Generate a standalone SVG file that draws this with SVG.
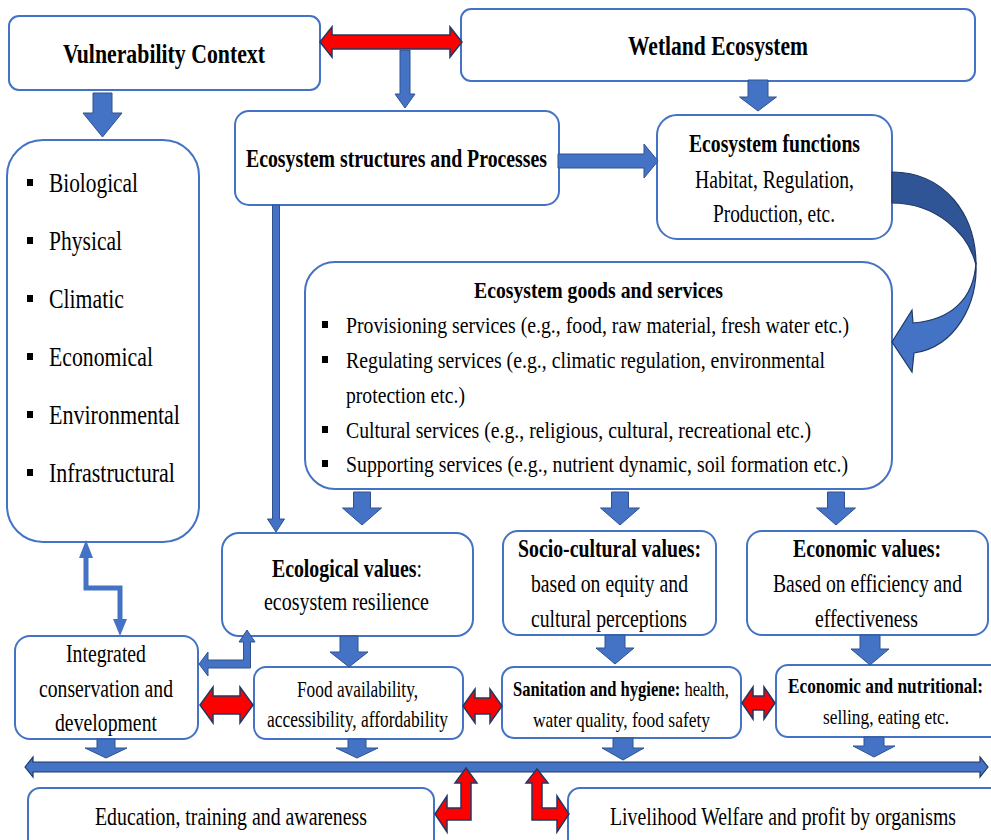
<svg xmlns="http://www.w3.org/2000/svg" width="991" height="840" viewBox="0 0 991 840">
<style>
.box{fill:#fff;stroke:#4472C4;stroke-width:2}
.t{font-family:"Liberation Serif","Times New Roman",serif;fill:#000}
.b{font-weight:bold}
.ba{fill:#4472C4;stroke:#2F528F;stroke-width:1}
.ra{fill:#FF0000;stroke:#1F3864;stroke-width:1.5}
.bul{fill:#000}
</style>
<rect width="991" height="840" fill="#fff"/>

<g id="vulnerability-context">
<rect class="box" x="9" y="16" width="311" height="74" rx="10"/>
<text class="t b" transform="scale(0.8,1)" x="78.75" y="63" font-size="28" textLength="252.5" lengthAdjust="spacingAndGlyphs">Vulnerability Context</text>
</g>

<g id="wetland-ecosystem">
<rect class="box" x="461" y="9" width="514" height="72" rx="10"/>
<text class="t b" transform="scale(0.8,1)" x="785" y="55" font-size="28" textLength="225" lengthAdjust="spacingAndGlyphs">Wetland Ecosystem</text>
</g>

<g id="ecosystem-structures">
<rect class="box" x="235" y="111" width="324" height="94" rx="14"/>
<text class="t b" transform="scale(0.8,1)" x="307.5" y="167" font-size="26" textLength="376.25" lengthAdjust="spacingAndGlyphs">Ecosystem structures and Processes</text>
</g>

<g id="ecosystem-functions">
<rect class="box" x="657" y="115" width="235" height="124" rx="20"/>
<text class="t b" transform="scale(0.8,1)" x="861.25" y="152" font-size="25" textLength="213.75" lengthAdjust="spacingAndGlyphs">Ecosystem functions</text>
<text class="t" transform="scale(0.8,1)" x="868.75" y="188" font-size="25" textLength="198.75" lengthAdjust="spacingAndGlyphs">Habitat, Regulation,</text>
<text class="t" transform="scale(0.8,1)" x="891.25" y="222" font-size="25" textLength="152.5" lengthAdjust="spacingAndGlyphs">Production, etc.</text>
</g>

<g id="vulnerability-factors">
<rect class="box" x="7" y="140" width="192" height="402" rx="36"/>
<rect class="bul" x="27" y="179" width="6" height="7"/>
<text class="t" transform="scale(0.8,1)" x="61.25" y="192" font-size="27" textLength="111.25" lengthAdjust="spacingAndGlyphs">Biological</text>
<rect class="bul" x="27" y="237" width="6" height="7"/>
<text class="t" transform="scale(0.8,1)" x="61.25" y="250" font-size="27" textLength="91.25" lengthAdjust="spacingAndGlyphs">Physical</text>
<rect class="bul" x="27" y="295" width="6" height="7"/>
<text class="t" transform="scale(0.8,1)" x="61.25" y="308" font-size="27" textLength="93.75" lengthAdjust="spacingAndGlyphs">Climatic</text>
<rect class="bul" x="27" y="353" width="6" height="7"/>
<text class="t" transform="scale(0.8,1)" x="61.25" y="366" font-size="27" textLength="130" lengthAdjust="spacingAndGlyphs">Economical</text>
<rect class="bul" x="27" y="411" width="6" height="7"/>
<text class="t" transform="scale(0.8,1)" x="61.25" y="424" font-size="27" textLength="163.75" lengthAdjust="spacingAndGlyphs">Environmental</text>
<rect class="bul" x="27" y="469" width="6" height="7"/>
<text class="t" transform="scale(0.8,1)" x="61.25" y="482" font-size="27" textLength="157.5" lengthAdjust="spacingAndGlyphs">Infrastructural</text>
</g>

<g id="goods-and-services">
<rect class="box" x="305" y="262" width="587" height="227" rx="30"/>
<text class="t b" transform="scale(0.8,1)" x="592.5" y="298" font-size="23" textLength="311.25" lengthAdjust="spacingAndGlyphs">Ecosystem goods and services</text>
<rect class="bul" x="322" y="321" width="6" height="7"/>
<text class="t" transform="scale(0.8,1)" x="432.5" y="333" font-size="23" textLength="628.75" lengthAdjust="spacingAndGlyphs">Provisioning services (e.g., food, raw material, fresh water etc.)</text>
<rect class="bul" x="322" y="356" width="6" height="7"/>
<text class="t" transform="scale(0.8,1)" x="432.5" y="368" font-size="23" textLength="598.75" lengthAdjust="spacingAndGlyphs">Regulating services (e.g., climatic regulation, environmental</text>
<text class="t" transform="scale(0.8,1)" x="432.5" y="403" font-size="23" textLength="148.75" lengthAdjust="spacingAndGlyphs">protection etc.)</text>
<rect class="bul" x="322" y="426" width="6" height="7"/>
<text class="t" transform="scale(0.8,1)" x="432.5" y="438" font-size="23" textLength="581.25" lengthAdjust="spacingAndGlyphs">Cultural services (e.g., religious, cultural, recreational etc.)</text>
<rect class="bul" x="322" y="460" width="6" height="7"/>
<text class="t" transform="scale(0.8,1)" x="432.5" y="472" font-size="23" textLength="627.5" lengthAdjust="spacingAndGlyphs">Supporting services (e.g., nutrient dynamic, soil formation etc.)</text>
</g>

<g id="ecological-values">
<rect class="box" x="222" y="533" width="251" height="103" rx="17"/>
<text class="t" transform="scale(0.76,1)" x="357.9" y="577" font-size="26" textLength="197.4" lengthAdjust="spacingAndGlyphs"><tspan font-weight="bold">Ecological values</tspan>:</text>
<text class="t" transform="scale(0.8,1)" x="330" y="610" font-size="25" textLength="206.25" lengthAdjust="spacingAndGlyphs">ecosystem resilience</text>
</g>

<g id="socio-cultural-values">
<rect class="box" x="503" y="531" width="213" height="104" rx="15"/>
<text class="t b" transform="scale(0.8,1)" x="647.5" y="557" font-size="26" textLength="228.75" lengthAdjust="spacingAndGlyphs">Socio-cultural values:</text>
<text class="t" transform="scale(0.8,1)" x="663.75" y="592" font-size="25" textLength="196.25" lengthAdjust="spacingAndGlyphs">based on equity and</text>
<text class="t" transform="scale(0.8,1)" x="663.75" y="627" font-size="25" textLength="195" lengthAdjust="spacingAndGlyphs">cultural perceptions</text>
</g>

<g id="economic-values">
<rect class="box" x="747" y="531" width="241" height="104" rx="15"/>
<text class="t b" transform="scale(0.8,1)" x="991.25" y="557" font-size="26" textLength="185" lengthAdjust="spacingAndGlyphs">Economic values:</text>
<text class="t" transform="scale(0.8,1)" x="966.25" y="592" font-size="25" textLength="236.25" lengthAdjust="spacingAndGlyphs">Based on efficiency and</text>
<text class="t" transform="scale(0.8,1)" x="1018.75" y="627" font-size="25" textLength="128.75" lengthAdjust="spacingAndGlyphs">effectiveness</text>
</g>

<g id="integrated-conservation">
<rect class="box" x="15" y="636" width="183" height="103" rx="15"/>
<text class="t" transform="scale(0.8,1)" x="82.5" y="662" font-size="25" textLength="100" lengthAdjust="spacingAndGlyphs">Integrated</text>
<text class="t" transform="scale(0.8,1)" x="48.75" y="697" font-size="25" textLength="167.5" lengthAdjust="spacingAndGlyphs">conservation and</text>
<text class="t" transform="scale(0.8,1)" x="68.75" y="731" font-size="25" textLength="127.5" lengthAdjust="spacingAndGlyphs">development</text>
</g>

<g id="food-availability">
<rect class="box" x="254" y="667" width="209" height="72" rx="12"/>
<text class="t" transform="scale(0.8,1)" x="371.25" y="697" font-size="23" textLength="151.25" lengthAdjust="spacingAndGlyphs">Food availability,</text>
<text class="t" transform="scale(0.8,1)" x="333.75" y="727" font-size="23" textLength="226.25" lengthAdjust="spacingAndGlyphs">accessibility, affordability</text>
</g>

<g id="sanitation-hygiene">
<rect class="box" x="502" y="667" width="239" height="71" rx="12"/>
<text class="t" transform="scale(0.75,1)" x="684" y="696" font-size="22" textLength="288" lengthAdjust="spacingAndGlyphs"><tspan font-weight="bold">Sanitation and hygiene:</tspan> health,</text>
<text class="t" transform="scale(0.8,1)" x="666.25" y="727" font-size="22" textLength="221.25" lengthAdjust="spacingAndGlyphs">water quality, food safety</text>
</g>

<g id="economic-nutritional">
<rect class="box" x="776" y="665" width="230" height="72" rx="12"/>
<text class="t b" transform="scale(0.8,1)" x="985" y="693" font-size="22" textLength="243.75" lengthAdjust="spacingAndGlyphs">Economic and nutritional:</text>
<text class="t" transform="scale(0.8,1)" x="1028.75" y="724" font-size="22" textLength="157.5" lengthAdjust="spacingAndGlyphs">selling, eating etc.</text>
</g>

<g id="education">
<rect class="box" x="28" y="788" width="406" height="70" rx="12"/>
<text class="t" transform="scale(0.8,1)" x="118.75" y="825" font-size="25" textLength="340" lengthAdjust="spacingAndGlyphs">Education, training and awareness</text>
</g>

<g id="livelihood">
<rect class="box" x="568" y="788" width="440" height="70" rx="12"/>
<text class="t" transform="scale(0.8,1)" x="762.5" y="825" font-size="25" textLength="432.5" lengthAdjust="spacingAndGlyphs">Livelihood Welfare and profit by organisms</text>
</g>

<g id="connectors">
<path class="ra" d="M320,42 L332,27 L332,35 L450,35 L450,27 L462,42 L450,57 L450,49 L332,49 L332,57 Z"/>
<path class="ba" d="M93,93 L112,93 L112,113 L122,113 L102.5,137 L83,113 L93,113 Z"/>
<path class="ba" d="M400,50 L410,50 L410,94 L415,94 L405,108 L395,94 L400,94 Z"/>
<path class="ba" d="M748,80 L768,80 L768,97 L776.5,97 L758,111 L739.5,97 L748,97 Z"/>
<path class="ba" d="M558,154 L644,154 L644,144 L658,161 L644,178 L644,168 L558,168 Z"/>
<path class="ba" d="M272.5,205 L279.5,205 L279.5,519 L284.5,519 L276,532 L267.5,519 L272.5,519 Z"/>
<path class="ba" d="M353.5,492 L370.5,492 L370.5,508 L381.5,508 L362,525 L342.5,508 L353.5,508 Z"/>
<path class="ba" d="M611.5,492 L628.5,492 L628.5,508 L639.5,508 L620,525 L600.5,508 L611.5,508 Z"/>
<path class="ba" d="M827.5,492 L844.5,492 L844.5,508 L855.5,508 L836,525 L816.5,508 L827.5,508 Z"/>
<path class="ba" d="M340,636 L358,636 L358,652 L368,652 L349,667 L330,652 L340,652 Z"/>
<path class="ba" d="M605,635 L625,635 L625,648 L634,648 L615,664 L596,648 L605,648 Z"/>
<path class="ba" d="M860,635 L880,635 L880,649 L889,649 L870,665 L851,649 L860,649 Z"/>
<path class="ba" d="M97,739 L115,739 L115,748 L127,748 L106,758 L85,748 L97,748 Z"/>
<path class="ba" d="M348,739 L366,739 L366,748 L378,748 L357,758 L336,748 L348,748 Z"/>
<path class="ba" d="M613,738 L633,738 L633,748 L644,748 L623,760 L602,748 L613,748 Z"/>
<path class="ba" d="M864,737 L884,737 L884,746 L895,746 L874,757 L853,746 L864,746 Z"/>
<path d="M892,172 C945,172 976,215 976,265 C968,232 935,203 892,203 Z" fill="#2F5597" stroke="#1F3864" stroke-width="1.2"/>
<path d="M976,262 C974,300 950,320 913,323 L912,310 L892,342 L912,372 L914,353 C955,347 978,305 976,262 Z" fill="#4472C4" stroke="#1F3864" stroke-width="1.2"/>
<path class="ba" d="M247,630 L255,642 L250.5,642 L250.5,668 L208,668 L208,676 L199,664 L208,652 L208,660 L243.5,660 L243.5,642 L239,642 Z"/>
<polyline points="86,556 86,588 120,588 120,620" fill="none" stroke="#4472C4" stroke-width="5"/>
<polygon points="86,540 79,558 93,558" fill="#4472C4"/>
<polygon points="120,636 113,619 127,619" fill="#4472C4"/>
<path class="ra" d="M200,705 L213,687 L213,696 L240,696 L240,687 L253,705 L240,723 L240,714 L213,714 L213,723 Z"/>
<path class="ra" d="M463,706 L475,689 L475,698 L490,698 L490,689 L502,706 L490,723 L490,714 L475,714 L475,723 Z"/>
<path class="ra" d="M742,703 L753,687 L753,696 L764,696 L764,687 L775,703 L764,719 L764,710 L753,710 L753,719 Z"/>
<path d="M25,767 L33,757 L33,762 L980,762 L980,757 L988,767 L980,777 L980,772 L33,772 L33,777 Z" fill="#4472C4" stroke="#1F3864" stroke-width="1.2"/>
<path class="ra" d="M466,768 L477,783 L471,783 L471,820 L447,820 L447,832 L435,814 L447,796 L447,808 L461,808 L461,783 L455,783 Z"/>
<path class="ra" d="M537,769 L548,783 L542,783 L542,808 L557,808 L557,796 L569,814 L557,832 L557,820 L532,820 L532,783 L526,783 Z"/>
</g>
</svg>
